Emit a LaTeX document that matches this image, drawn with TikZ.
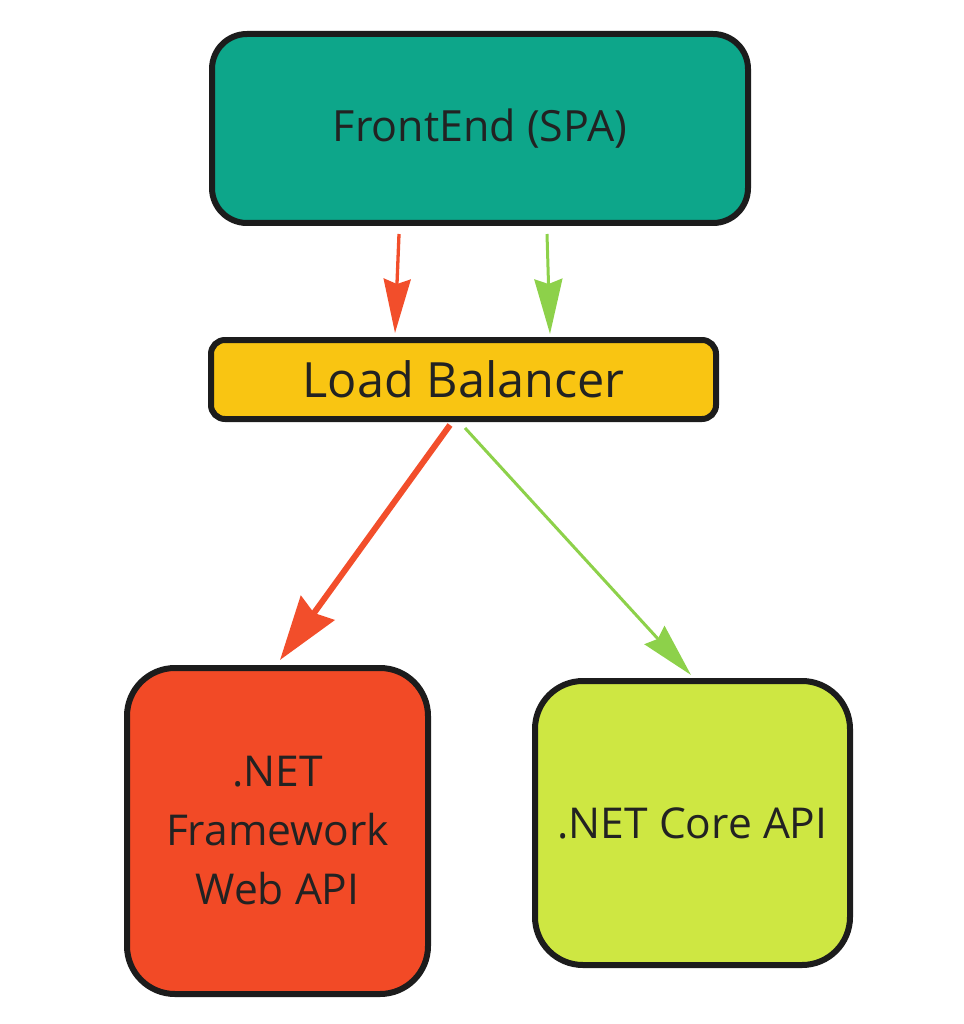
\documentclass[tikz,border=0pt]{standalone}
\usepackage{fontspec}
\setmainfont{Open Sans}
\usetikzlibrary{arrows.meta,calc}
\definecolor{teal1}{HTML}{0DA68A}
\definecolor{yellow1}{HTML}{F9C512}
\definecolor{red1}{HTML}{F24A26}
\definecolor{lime1}{HTML}{CEE742}
\definecolor{redarr}{HTML}{F24E2B}
\definecolor{greenarr}{HTML}{8DD14A}
\definecolor{border}{HTML}{1C1C1C}
\definecolor{txt}{HTML}{222222}
\tikzset{
  box/.style={draw=border, line width=6pt, text=txt, inner sep=0pt, align=center},
  redA/.style={draw=redarr, line width=3.3pt, -{Stealth[length=54pt,width=27pt,inset=5pt,fill=redarr]}},
  greenA/.style={draw=greenarr, line width=3pt, -{Stealth[length=55pt,width=28pt,inset=5pt,fill=greenarr]}},
  redB/.style={draw=redarr, line width=6pt, -{Stealth[length=64pt,width=41pt,inset=6pt,fill=redarr]}},
  greenB/.style={draw=greenarr, line width=3pt, -{Stealth[length=54pt,width=27pt,inset=5pt,fill=greenarr]}},
}
\begin{document}
\begin{tikzpicture}[x=1pt,y=-1pt]
\useasboundingbox (0,0) rectangle (963,1024);
\node[box, fill=teal1, minimum width=536pt, minimum height=189pt, rounded corners=35pt,
      font=\fontsize{43}{52}\selectfont] (FE) at (480,128.5) {FrontEnd (SPA)};
\node[box, fill=yellow1, minimum width=505pt, minimum height=79pt, rounded corners=14pt,
      font=\fontsize{48.6}{58}\selectfont] (LB) at (463.5,379.5) {Load Balancer};
\node[box, fill=red1, minimum width=301pt, minimum height=326pt, rounded corners=48pt,
      font=\fontsize{42.5}{59}\selectfont] (NF) at (277.5,831) {.NET\\Framework\\Web API};
\node[box, fill=lime1, minimum width=315pt, minimum height=284pt, rounded corners=48pt,
      font=\fontsize{42.5}{50}\selectfont] (NC) at (692.5,823) {.NET Core API};
\draw[redA] ($(FE.south)+(-81,8)$) -- ($(LB.north)+(-68.5,-4)$);
\draw[greenA] ($(FE.south)+(67,8)$) -- ($(LB.north)+(86.5,-3)$);
\draw[redB] ($(LB.south)+(-13.5,3)$) -- ($(NF.north)+(2.5,-5)$);
\draw[greenB] ($(LB.south)+(1.5,6)$) -- ($(NC.north)+(-1.5,-3)$);
\end{tikzpicture}
\end{document}
